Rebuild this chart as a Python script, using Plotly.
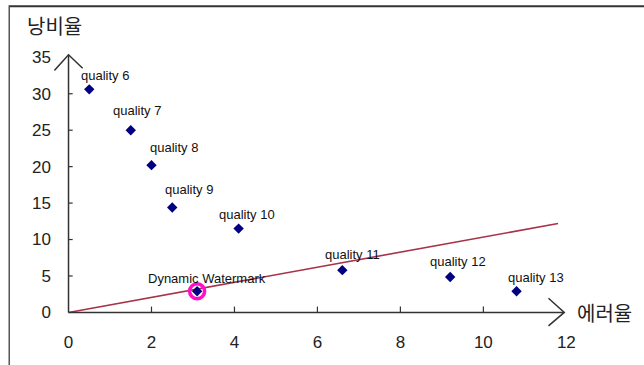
import plotly.graph_objects as go

# ---- data ----
point_labels = ["quality 6", "quality 7", "quality 8", "quality 9", "quality 10",
                "quality 11", "quality 12", "quality 13"]
error_rate = [0.5, 1.5, 2.0, 2.5, 4.1, 6.6, 9.2, 10.8]
waste_rate = [30.6, 25.0, 20.2, 14.4, 11.5, 5.8, 4.85, 2.9]

wm_label = ["Dynamic Watermark"]
wm_error = [3.1]
wm_waste = [2.9]

line_x = [0, 11.8]
line_y = [0, 12.2]

x_ticks = [0, 2, 4, 6, 8, 10, 12]
y_ticks = [0, 5, 10, 15, 20, 25, 30, 35]
x_title = "에러율"
y_title = "낭비율"

# ---- label offsets in pixels (style) ----
label_shift = [(-10.7, 14.3), (-19.6, 20), (-3.3, 18), (-9, 17.7), (-21.3, 13.7),
               (-19.3, 15.3), (-21.7, 16), (-10.3, 13.3)]
wm_shift = (-51, 13)

W, H = 644, 365
XR = [-0.35, 12.45]
YR = [-2.0, 36.0]
PXX = 41.5   # px per x unit
PXY = 7.28   # px per y unit
L = 68.3 - (0 - XR[0]) * PXX
PW = (XR[1] - XR[0]) * PXX
R = W - L - PW
T = 312.3 - YR[1] * PXY
PH = (YR[1] - YR[0]) * PXY
B = H - T - PH

fig = go.Figure()

# regression-like line
fig.add_trace(go.Scatter(x=line_x, y=line_y, mode="lines",
                         line=dict(color="#A83248", width=1.6),
                         hoverinfo="skip", showlegend=False))
# quality points
fig.add_trace(go.Scatter(x=error_rate, y=waste_rate, mode="markers",
                         marker=dict(symbol="diamond", size=8, color="#000080"),
                         showlegend=False))
# watermark point + highlight ring
fig.add_trace(go.Scatter(x=wm_error, y=wm_waste, mode="markers",
                         marker=dict(symbol="circle-open", size=15, color="#FF10C8",
                                     line=dict(color="#FF10C8", width=3.5)),
                         hoverinfo="skip", showlegend=False))
fig.add_trace(go.Scatter(x=wm_error, y=wm_waste, mode="markers",
                         marker=dict(symbol="diamond", size=8, color="#000080"),
                         showlegend=False))

lab_font = dict(family="Liberation Sans, Arial, sans-serif", size=13, color="#111")
for t, xv, yv, (dx, dy) in zip(point_labels, error_rate, waste_rate, label_shift):
    fig.add_annotation(x=xv, y=yv, text=t, showarrow=False, xanchor="left",
                       yanchor="middle", xshift=dx, yshift=dy, font=lab_font)
fig.add_annotation(x=wm_error[0], y=wm_waste[0], text=wm_label[0], showarrow=False,
                   xanchor="left", yanchor="middle", xshift=wm_shift[0],
                   yshift=wm_shift[1], font=lab_font)

axc = "#333333"
shapes = []
# axis lines
shapes.append(dict(type="line", xref="x", yref="y", x0=0, y0=0, x1=0, y1=35.35,
                   line=dict(color=axc, width=1.5)))
shapes.append(dict(type="line", xref="x", yref="y", x0=0, y0=0, x1=11.95, y1=0,
                   line=dict(color=axc, width=1.5)))
# arrow heads
shapes.append(dict(type="path", xref="x", yref="y",
                   path="M -0.34 33.2 L 0 35.35 L 0.34 33.5",
                   line=dict(color=axc, width=1.5)))
shapes.append(dict(type="path", xref="x", yref="y",
                   path="M 11.57 1.95 L 11.95 0 L 11.57 -1.85",
                   line=dict(color=axc, width=1.5)))
# tick marks
for xv in x_ticks[1:-1]:
    shapes.append(dict(type="line", xref="x", yref="y", x0=xv, x1=xv, y0=0, y1=0.8,
                       line=dict(color=axc, width=1.2)))
for yv in y_ticks[1:-1]:
    shapes.append(dict(type="line", xref="x", yref="y", x0=0, x1=0.1, y0=yv, y1=yv,
                       line=dict(color=axc, width=1.2)))

# outer frame (top and left), in paper coordinates
def px_to_paper_x(px):
    return (px - L) / PW

def py_to_paper_y(py):
    return (H - B - py) / PH

shapes.append(dict(type="line", xref="paper", yref="paper",
                   x0=px_to_paper_x(9), x1=px_to_paper_x(646),
                   y0=py_to_paper_y(6.5), y1=py_to_paper_y(6.5),
                   line=dict(color="#333333", width=2)))
shapes.append(dict(type="line", xref="paper", yref="paper",
                   x0=px_to_paper_x(9), x1=px_to_paper_x(9),
                   y0=py_to_paper_y(5.5), y1=py_to_paper_y(368),
                   line=dict(color="#555555", width=1.5)))

title_font = dict(family="Noto Sans CJK KR, sans-serif", size=20, color="#222")
fig.add_annotation(xref="paper", yref="paper", x=px_to_paper_x(25), y=py_to_paper_y(26),
                   text=y_title, showarrow=False, xanchor="left", yanchor="middle",
                   font=title_font)
fig.add_annotation(xref="paper", yref="paper", x=px_to_paper_x(575), y=py_to_paper_y(312),
                   text=x_title, showarrow=False, xanchor="left", yanchor="middle",
                   font=title_font)

tick_font = dict(family="Liberation Sans, Arial, sans-serif", size=17, color="#222")
fig.update_layout(
    width=W, height=H, autosize=False,
    margin=dict(l=L, r=R, t=T, b=B, pad=0),
    paper_bgcolor="white", plot_bgcolor="white",
    shapes=shapes,
    xaxis=dict(range=XR, tickvals=x_ticks, ticktext=[str(v) for v in x_ticks],
               showgrid=False, zeroline=False, showline=False, ticks="",
               tickfont=tick_font, ticklabelstandoff=3),
    yaxis=dict(range=YR, tickvals=y_ticks, ticktext=[str(v) for v in y_ticks],
               showgrid=False, zeroline=False, showline=False, ticks="",
               tickfont=tick_font, ticklabelstandoff=2),
)

fig.write_html("out.html", config={"displayModeBar": False},
               post_script="document.body.style.margin='0';"
                           "document.body.style.overflow='hidden';")
